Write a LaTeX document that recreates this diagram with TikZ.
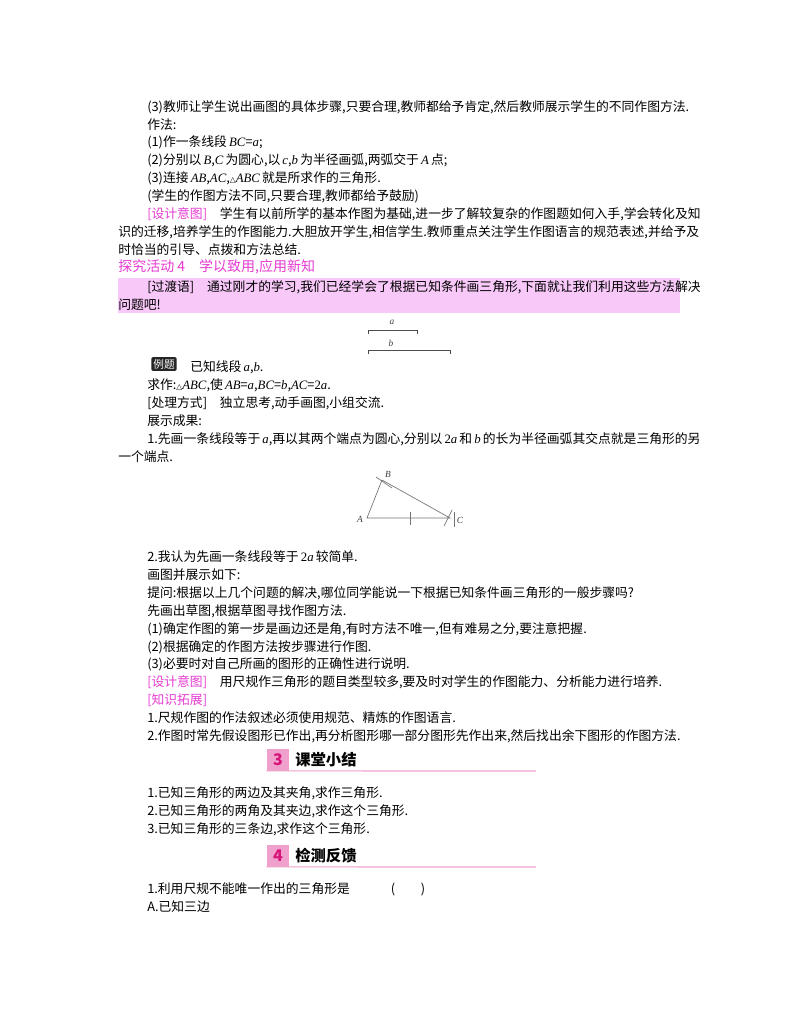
\documentclass[tikz,border=0pt]{standalone}
\usepackage{fontspec}
\setmainfont{Noto Sans CJK SC}
\newfontfamily\lat{Liberation Serif}
\newfontfamily\dv[Scale=0.6]{DejaVu Sans}
\definecolor{mag}{RGB}{230,60,210}
\definecolor{barpink}{RGB}{248,200,248}
\definecolor{hdrpink}{RGB}{240,160,205}
\definecolor{hdrnum}{RGB}{215,20,120}
\newcommand{\mi}[1]{{\lat\itshape #1}}
\newcommand{\mn}[1]{{\lat #1}}
\newcommand{\tri}{{\dv △}}
\begin{document}
\begin{tikzpicture}[x=0.75pt,y=-0.75pt,
  ln/.style={anchor=west,inner sep=0pt,font=\fontsize{9.6pt}{11pt}\selectfont},
  seg/.style={line width=0.5pt,draw=black!70},
  tri/.style={line width=0.5pt,draw=black!55},
  lab/.style={font=\fontsize{7pt}{8pt}\selectfont\lat\itshape,text=black!75},
  numbox/.style={fill=hdrpink,minimum width=17pt,minimum height=16pt,inner sep=0pt,text=hdrnum,font=\fontsize{12pt}{13pt}\selectfont\bfseries\itshape},
  hdrline/.style={draw=hdrpink,line width=0.8pt}]
\useasboundingbox (0,0) rectangle (800,1028);
\fill[white] (0,0) rectangle (800,1028);
\node[ln] (t1) at (147,107) {(3)教师让学生说出画图的具体步骤,只要合理,教师都给予肯定,然后教师展示学生的不同作图方法.};
\node[ln] (t2) at (147,125) {作法:};
\node[ln] (t3) at (147,142) {(1)作一条线段\,\mi{BC}=\mi{a};};
\node[ln] (t4) at (147,160) {(2)分别以\,\mi{B},\mi{C}\,为圆心,以\,\mi{c},\mi{b}\,为半径画弧,两弧交于\,\mi{A}\,点;};
\node[ln] (t5) at (147,178) {(3)连接\,\mi{AB},\mi{AC},\tri\mi{ABC}\,就是所求作的三角形.};
\node[ln] (t6) at (147,196) {(学生的作图方法不同,只要合理,教师都给予鼓励)};
\node[ln] (t7) at (147,214) {\textcolor{mag}{[设计意图]}\quad 学生有以前所学的基本作图为基础,进一步了解较复杂的作图题如何入手,学会转化及知};
\node[ln] (t8) at (118,232) {识的迁移,培养学生的作图能力.大胆放开学生,相信学生.教师重点关注学生作图语言的规范表述,并给予及};
\node[ln] (t9) at (118,250) {时恰当的引导、点拨和方法总结.};
\node[ln,text=mag,font=\fontsize{10.5pt}{12pt}\selectfont] (t10) at (118,267) {探究活动 4\quad 学以致用,应用新知};
\fill[barpink] (118,278) rectangle (680,313);
\node[ln] (t11) at (147,287) {[过渡语]\quad 通过刚才的学习,我们已经学会了根据已知条件画三角形,下面就让我们利用这些方法解决};
\node[ln] (t12) at (118,305) {问题吧!};
% segments
\coordinate (a1) at (368,330); \coordinate (a2) at (417,330);
\draw[seg] ([yshift=-3]a1) -- (a1) -- (a2) -- ([yshift=-3]a2);
\node[lab] (la) at (392,322) {a};
\coordinate (b1) at (368,350); \coordinate (b2) at (450,350);
\draw[seg] ([yshift=-3]b1) -- (b1) -- (b2) -- ([yshift=-3]b2);
\node[lab] (lb) at (391,343) {b};
% example
\node[fill=black!85,text=white,inner sep=1.5pt,rounded corners=1pt,font=\fontsize{8pt}{9pt}\selectfont] (ex) at (164,364) {例题};
\node[ln] (t13) at (190,367) {已知线段\,\mi{a},\mi{b}.};
\node[ln] (t14) at (147,385) {求作:\tri\mi{ABC},使\,\mi{AB}=\mi{a},\mi{BC}=\mi{b},\mi{AC}=\mn{2}\mi{a}.};
\node[ln] (t15) at (147,403) {[处理方式]\quad 独立思考,动手画图,小组交流.};
\node[ln] (t16) at (147,421) {展示成果:};
\node[ln] (t17) at (147,439) {1.先画一条线段等于\,\mi{a},再以其两个端点为圆心,分别以\,\mn{2}\mi{a}\,和\,\mi{b}\,的长为半径画弧其交点就是三角形的另};
\node[ln] (t18) at (118,457) {一个端点.};
% triangle
\coordinate (A) at (367,518); \coordinate (B) at (382,480); \coordinate (C) at (450,518);
\draw[tri] (A) -- (B) -- (C) -- cycle;
\draw[tri] (410,512) -- (410,525);
\draw[tri] (444,526) -- (452,510);
\draw[tri] (454,512) -- (454,527);
\draw[tri] (376,477) -- (392,488);
\node[lab] (LA) at (360,519) {A};
\node[lab] (LB) at (388,474) {B};
\node[lab] (LC) at (460,520) {C};
\node[ln] (t19) at (147,557) {2.我认为先画一条线段等于\,\mn{2}\mi{a}\,较简单.};
\node[ln] (t20) at (147,575) {画图并展示如下:};
\node[ln] (t21) at (147,593) {提问:根据以上几个问题的解决,哪位同学能说一下根据已知条件画三角形的一般步骤吗?};
\node[ln] (t22) at (147,611) {先画出草图,根据草图寻找作图方法.};
\node[ln] (t23) at (147,629) {(1)确定作图的第一步是画边还是角,有时方法不唯一,但有难易之分,要注意把握.};
\node[ln] (t24) at (147,647) {(2)根据确定的作图方法按步骤进行作图.};
\node[ln] (t25) at (147,664) {(3)必要时对自己所画的图形的正确性进行说明.};
\node[ln] (t26) at (147,682) {\textcolor{mag}{[设计意图]}\quad 用尺规作三角形的题目类型较多,要及时对学生的作图能力、分析能力进行培养.};
\node[ln,text=mag] (t27) at (147,700) {[知识拓展]};
\node[ln] (t28) at (147,718) {1.尺规作图的作法叙述必须使用规范、精炼的作图语言.};
\node[ln] (t29) at (147,736) {2.作图时常先假设图形已作出,再分析图形哪一部分图形先作出来,然后找出余下图形的作图方法.};
% section 3
\node[numbox] (n3) at (278,760) {3};
\node[ln,font=\fontsize{11.5pt}{13pt}\selectfont\bfseries] (h3) at (295,760) {课堂小结};
\draw[hdrline] (n3.south west) -- (536,771);
\node[ln] (t30) at (147,793) {1.已知三角形的两边及其夹角,求作三角形.};
\node[ln] (t31) at (147,811) {2.已知三角形的两角及其夹边,求作这个三角形.};
\node[ln] (t32) at (147,829) {3.已知三角形的三条边,求作这个三角形.};
% section 4
\node[numbox] (n4) at (278,856) {4};
\node[ln,font=\fontsize{11.5pt}{13pt}\selectfont\bfseries] (h4) at (295,856) {检测反馈};
\draw[hdrline] (n4.south west) -- (536,867);
\node[ln] (t33) at (147,889) {1.利用尺规不能唯一作出的三角形是\hspace{3.2em}(\hspace{2em})};
\node[ln] (t34) at (147,907) {A.已知三边};
\end{tikzpicture}
\end{document}
